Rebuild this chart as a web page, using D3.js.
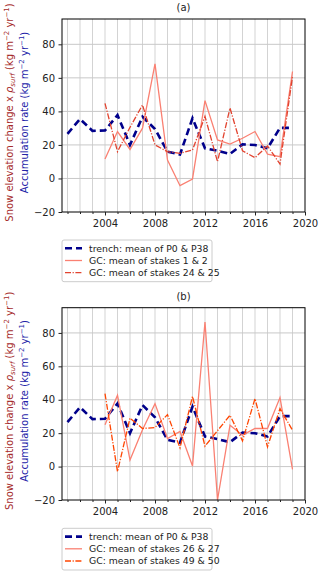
<!DOCTYPE html>
<html><head><meta charset="utf-8">
<script src="https://cdn.jsdelivr.net/npm/d3@7"></script>
<style>
html,body{margin:0;padding:0;background:#fff;}
svg{display:block;font-family:"DejaVu Sans",sans-serif;}
</style></head>
<body>
<script>
const years = d3.range(2001, 2020);
const trench = [26.6,35.5,28.4,28.6,37.8,20,36.8,29.5,16,14.3,35.9,18,16.5,14.6,20.3,20,18,30.2,30.2];
const gcYears = d3.range(2004, 2020);
const gc12 = [11.6,28,17.3,30,68.3,11,-4.3,-0.3,46.4,23,20.5,24,28,14.5,13,63.8];
const gc2425 = [44.8,16,30.5,43.8,20,16,15,17,37,10,42,16.5,12.4,19.4,8.6,60.8];
const gc2627 = [25,42.7,3.9,22,37.7,16.8,21,0.3,86.5,-20,24.8,18.8,22.8,22.8,41.3,-1.7];
const gc4950 = [43.7,-3,29,22.8,23.4,31.1,11.2,42,12.2,21.5,30.7,15.4,40.7,11.8,34.7,21.8];
const xTicks = [2004, 2008, 2012, 2016, 2020];
const yTicks = [-20, 0, 20, 40, 60, 80];

const W = 320, H = 574;
const svg = d3.select("body").append("svg").attr("width", W).attr("height", H);

const panels = [
  {title: "(a)", top: 19, bottom: 212, legTop: 240,
   series: [
     {name: "trench: mean of P0 & P38", x: years, y: trench, color: "#00008b", w: 2.6, dash: "7,4"},
     {name: "GC: mean of stakes 1 & 2", x: gcYears, y: gc12, color: "#fa8072", w: 1.3, dash: null},
     {name: "GC: mean of stakes 24 & 25", x: gcYears, y: gc2425, color: "#e2432f", w: 1.3, dash: "6,1.6,1.2,1.6"}
   ]},
  {title: "(b)", top: 307.7, bottom: 500, legTop: 528.3,
   series: [
     {name: "trench: mean of P0 & P38", x: years, y: trench, color: "#00008b", w: 2.6, dash: "7,4"},
     {name: "GC: mean of stakes 26 & 27", x: gcYears, y: gc2627, color: "#fa8072", w: 1.3, dash: null},
     {name: "GC: mean of stakes 49 & 50", x: gcYears, y: gc4950, color: "#ff4500", w: 1.3, dash: "6,1.6,1.2,1.6"}
   ]}
];

const L = 62, R = 305;
const x = d3.scaleLinear().domain([2000.56, 2020]).range([L, R]);

panels.forEach(p => {
  const y = d3.scaleLinear().domain([-20, 95.1]).range([p.bottom, p.top]);
  const g = svg.append("g");
  // grid
  g.append("g").selectAll("line").data(years).join("line")
    .attr("x1", d => x(d)).attr("x2", d => x(d)).attr("y1", p.top).attr("y2", p.bottom)
    .attr("stroke", "#d3d3d3").attr("stroke-width", 1);
  g.append("g").selectAll("line").data(yTicks.filter(v => v > -20)).join("line")
    .attr("x1", L).attr("x2", R).attr("y1", d => y(d)).attr("y2", d => y(d))
    .attr("stroke", "#c8c8c8").attr("stroke-width", 1);
  // lines
  p.series.forEach(s => {
    const line = d3.line().x((d, i) => x(s.x[i])).y(d => y(d));
    g.append("path").datum(s.y).attr("d", line).attr("fill", "none")
      .attr("stroke", s.color).attr("stroke-width", s.w)
      .attr("stroke-dasharray", s.dash);
  });
  // frame
  g.append("rect").attr("x", L).attr("y", p.top).attr("width", R - L).attr("height", p.bottom - p.top)
    .attr("fill", "none").attr("stroke", "#000").attr("stroke-width", 1);
  // axes
  const xa = d3.axisBottom(x).tickValues(xTicks).tickFormat(d3.format("d")).tickSize(3.5).tickPadding(4);
  g.append("g").attr("transform", `translate(0,${p.bottom})`).call(xa);
  const xm = d3.axisBottom(x).tickValues(years.filter(v => v % 4 !== 0)).tickFormat("").tickSize(2);
  g.append("g").attr("transform", `translate(0,${p.bottom})`).call(xm);
  const ya = d3.axisLeft(y).tickValues(yTicks).tickFormat(d => d < 0 ? "\u2212" + Math.abs(d) : d).tickSize(3.5).tickPadding(3.5);
  g.append("g").attr("transform", `translate(${L},0)`).call(ya);
  g.selectAll(".domain").remove();
  g.selectAll(".tick text").attr("font-size", 10).attr("fill", "#222").attr("font-family", "DejaVu Sans");
  g.selectAll(".tick line").attr("stroke", "#222");
  // title
  g.append("text").attr("x", (L + R) / 2).attr("y", p.top - 8).attr("text-anchor", "middle")
    .attr("font-size", 10).attr("fill", "#222").text(p.title);
  // y labels
  const cy = (p.top + p.bottom) / 2 - 3;
  const red = g.append("text").attr("transform", `translate(12.5,${cy}) rotate(-90)`)
    .attr("text-anchor", "middle").attr("font-size", 10).attr("fill", "#a52a2a");
  red.append("tspan").text("Snow elevation change x ");
  red.append("tspan").attr("font-style", "italic").text("\u03c1");
  red.append("tspan").attr("font-style", "italic").attr("font-size", 7).attr("dy", 2).text("surf");
  red.append("tspan").attr("dy", -2).text(" (kg m");
  red.append("tspan").attr("font-size", 7).attr("dy", -4).text("\u22122");
  red.append("tspan").attr("dy", 4).text(" yr");
  red.append("tspan").attr("font-size", 7).attr("dy", -4).text("\u22121");
  red.append("tspan").attr("dy", 4).text(")");
  const blue = g.append("text").attr("transform", `translate(27.5,${cy}) rotate(-90)`)
    .attr("text-anchor", "middle").attr("font-size", 10).attr("fill", "#2323a8");
  blue.append("tspan").text("Accumulation rate (kg m");
  blue.append("tspan").attr("font-size", 7).attr("dy", -4).text("\u22122");
  blue.append("tspan").attr("dy", 4).text(" yr");
  blue.append("tspan").attr("font-size", 7).attr("dy", -4).text("\u22121");
  blue.append("tspan").attr("dy", 4).text(")");
  // legend
  const lg = g.append("g").attr("transform", `translate(62,${p.legTop})`);
  lg.append("rect").attr("x", 0).attr("y", 0).attr("width", 150).attr("height", 41.7).attr("rx", 2)
    .attr("fill", "#fff").attr("stroke", "#cccccc").attr("stroke-width", 1);
  p.series.forEach((s, i) => {
    const yy = 8.3 + i * 12.2;
    lg.append("line").attr("x1", 3).attr("x2", 20).attr("y1", yy).attr("y2", yy)
      .attr("stroke", s.color).attr("stroke-width", s.w).attr("stroke-dasharray", s.dash);
    lg.append("text").attr("x", 27).attr("y", yy + 3.3).attr("font-size", 9.3).attr("fill", "#222").text(s.name);
  });
});
</script>
</body></html>
